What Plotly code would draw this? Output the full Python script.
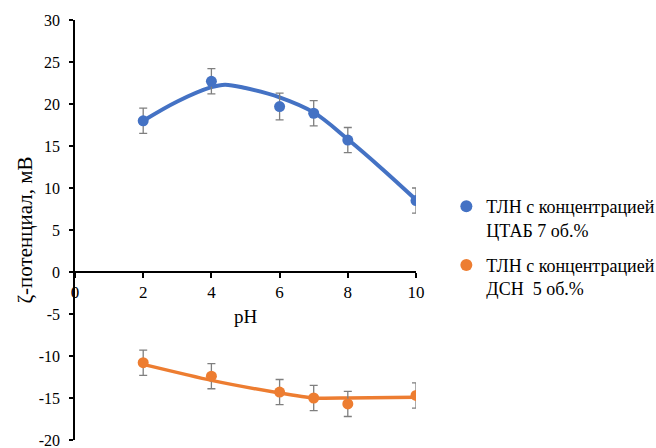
import plotly.graph_objects as go

# pH values of the measurements
ph = [2, 4, 6, 7, 8, 10]

# zeta potential, mV, and its standard deviation
zeta_ctab = [18.0, 22.7, 19.7, 18.9, 15.7, 8.5]
err_ctab = [1.5, 1.5, 1.6, 1.5, 1.5, 1.5]
zeta_sds = [-10.8, -12.4, -14.3, -15.0, -15.7, -14.7]
err_sds = [1.5, 1.5, 1.5, 1.5, 1.5, 1.5]

# smoothed trend curves
trend_ctab_x = [2, 3, 4, 4.4, 5, 6, 7, 8, 9, 10]
trend_ctab_y = [18.0, 20.3, 22.0, 22.3, 21.9, 20.8, 19.0, 15.8, 12.3, 8.6]
trend_sds_x = [2, 4, 6, 7, 8, 10]
trend_sds_y = [-11.0, -12.9, -14.4, -15.0, -15.0, -14.9]

# axis ticks (hyphen used as minus sign)
y_ticks = [-20, -15, -10, -5, 0, 5, 10, 15, 20, 25, 30]
y_tick_labels = ["-20", "-15", "-10", "-5", "0", "5", "10", "15", "20", "25", "30"]
x_ticks = [0, 2, 4, 6, 8, 10]

names = ["ТЛН с концентрацией<br>ЦТАБ 7 об.%", "ТЛН с концентрацией<br>ДСН  5 об.%"]
blue = "#4472C4"
orange = "#ED7D31"
err_color = "#7f7f7f"
serif = "Liberation Serif"

fig = go.Figure()

fig.add_trace(go.Scatter(x=trend_ctab_x, y=trend_ctab_y, mode="lines",
                         line=dict(color=blue, width=4, shape="spline", smoothing=1.0),
                         legendgroup="ctab", showlegend=False, hoverinfo="skip"))
fig.add_trace(go.Scatter(x=trend_sds_x, y=trend_sds_y, mode="lines",
                         line=dict(color=orange, width=3.5, shape="spline", smoothing=0.6),
                         legendgroup="sds", showlegend=False, hoverinfo="skip"))

fig.add_trace(go.Scatter(x=ph, y=zeta_ctab, mode="markers", name=names[0],
                         legendgroup="ctab",
                         marker=dict(color=blue, size=11),
                         error_y=dict(type="data", array=err_ctab, color=err_color,
                                      thickness=1.3, width=4)))
fig.add_trace(go.Scatter(x=ph, y=zeta_sds, mode="markers", name=names[1],
                         legendgroup="sds",
                         marker=dict(color=orange, size=11),
                         error_y=dict(type="data", array=err_sds, color=err_color,
                                      thickness=1.3, width=4)))

fig.update_layout(
    width=656, height=448,
    margin=dict(l=75, r=240, t=20, b=8, autoexpand=False),
    paper_bgcolor="white", plot_bgcolor="white",
    font=dict(family=serif, color="black"),
    showlegend=True,
    legend=dict(x=1.089, y=0.60, xanchor="left", yanchor="top",
                font=dict(family=serif, size=18, color="black"),
                valign="top", tracegroupgap=9, itemsizing="constant",
                bgcolor="rgba(0,0,0,0)"),
    xaxis=dict(range=[0, 10], tickvals=x_ticks, anchor="free", position=0.4,
               showline=True, linecolor="black", linewidth=1.5,
               ticks="outside", ticklen=5, tickwidth=1.5, tickcolor="black",
               showgrid=False, zeroline=False, automargin=False,
               tickfont=dict(family=serif, size=17),
               title=dict(text="pH", font=dict(family=serif, size=19), standoff=8)),
    yaxis=dict(range=[-20, 30], tickvals=y_ticks, ticktext=y_tick_labels,
               showline=True, linecolor="black", linewidth=1.5,
               ticks="outside", ticklen=4, tickwidth=1.5, tickcolor="black",
               showgrid=False, zeroline=False, ticklabeloverflow="allow",
               automargin=False,
               tickfont=dict(family=serif, size=16),
               ticklabelstandoff=6,
               title=dict(text="ζ-потенциал, мВ", font=dict(family=serif, size=21),
                          standoff=0)),
)

fig.write_html("out.html")
